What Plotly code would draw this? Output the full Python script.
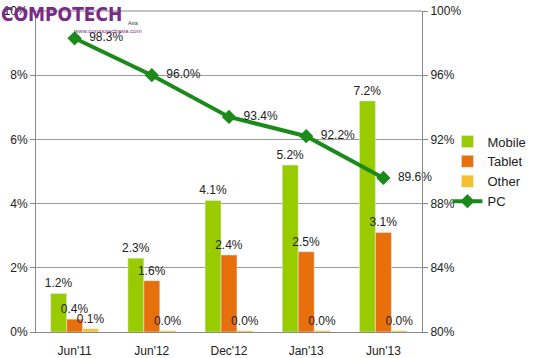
import plotly.graph_objects as go

categories = ["Jun'11", "Jun'12", "Dec'12", "Jan'13", "Jun'13"]
mobile = [1.2, 2.3, 4.1, 5.2, 7.2]
tablet = [0.4, 1.6, 2.4, 2.5, 3.1]
other = [0.1, 0.04, 0.04, 0.04, 0.04]
pc = [98.3, 96.0, 93.4, 92.2, 89.6]

font = dict(family="Liberation Sans, Arial, sans-serif", size=12, color="#222")

fig = go.Figure()
for name, vals, col in [("Mobile", mobile, "#99CC00"), ("Tablet", tablet, "#E8700C"),
                        ("Other", other, "#F5C02A")]:
    fig.add_bar(x=categories, y=vals, name=name, marker_color=col,
                texttemplate="%{y:.1f}%", textposition="outside", textfont=font,
                constraintext="none", cliponaxis=False)
fig.add_scatter(x=categories, y=pc, name="PC", yaxis="y2", mode="lines+markers+text",
                line=dict(color="#1B8A1B", width=4),
                marker=dict(symbol="diamond", size=11, color="#1B8A1B"),
                texttemplate="  %{y:.1f}%", textposition="middle right", textfont=font,
                cliponaxis=False)

fig.update_layout(
    width=543, height=358,
    margin=dict(l=36, r=110, t=11, b=26),
    paper_bgcolor="white", plot_bgcolor="white",
    font=font,
    barmode="group", bargap=0.38, bargroupgap=0,
    showlegend=True,
    legend=dict(x=1.066, y=0.5, xanchor="left", yanchor="middle",
                bgcolor="rgba(0,0,0,0)",
                font=dict(size=13, color="#222"), itemwidth=30),
    xaxis=dict(showline=True, linecolor="#888", linewidth=1, ticks="",
               tickfont=dict(size=12, color="#222"), automargin=False,
               ticklabelstandoff=8),
    yaxis=dict(range=[0, 10], dtick=2, ticksuffix="%", showgrid=True,
               gridcolor="#999", gridwidth=1, showline=True, linecolor="#888",
               ticks="outside", ticklen=5, tickcolor="#888", zeroline=False,
               tickfont=dict(size=12, color="#222"), automargin=False,
               ticklabeloverflow="allow"),
    yaxis2=dict(range=[80, 100], dtick=4, ticksuffix="%", overlaying="y",
                side="right", showgrid=False, showline=True, linecolor="#888",
                ticks="outside", ticklen=5, tickcolor="#888", zeroline=False,
                tickfont=dict(size=12, color="#222"), automargin=False,
                ticklabeloverflow="allow"),
)

fig.add_shape(type="line", xref="paper", yref="paper", x0=0, x1=1, y0=1, y1=1,
              line=dict(color="#888", width=1))

fig.add_annotation(text="<b>COMPOTECH</b>", xref="paper", yref="paper",
                   x=-0.095, y=1.03, xanchor="left", yanchor="top", showarrow=False,
                   font=dict(family="DejaVu Sans Condensed, DejaVu Sans, sans-serif",
                             size=19, color="#7A2A88"))
fig.add_annotation(text="Asia", xref="paper", yref="paper",
                   x=0.232, y=0.963, xanchor="left", yanchor="middle", showarrow=False,
                   font=dict(size=5, color="#333"))
fig.add_annotation(text="www.compotechasia.com", xref="paper", yref="paper",
                   x=0.091, y=0.938, xanchor="left", yanchor="middle", showarrow=False,
                   font=dict(size=6, color="#7A2A88"))

fig.write_html("out.html", config={"displayModeBar": False},
               post_script="document.body.style.margin='0';")
